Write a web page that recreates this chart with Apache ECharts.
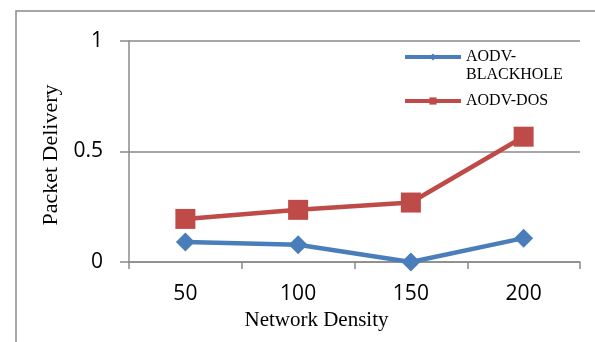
<!DOCTYPE html>
<html>
<head>
<meta charset="utf-8">
<script src="https://cdn.jsdelivr.net/npm/echarts@6/dist/echarts.min.js"></script>
<style>
html,body{margin:0;padding:0;background:#fff;}
#c{width:595px;height:342px;}
</style>
</head>
<body>
<div id="c"></div>
<script>
const categories = ['50', '100', '150', '200'];
const blackhole = [0.09, 0.078, 0.0, 0.108];
const dos = [0.195, 0.236, 0.269, 0.567];
const yTicks = [0, 0.5, 1];

const chart = echarts.init(document.getElementById('c'), null, {renderer: 'canvas'});
const sans = 'Open Sans';
const serif = 'Liberation Serif';
const gray = '#8a8a8a';
const blue = '#4A7EBB';
const red = '#BE4B48';

chart.setOption({
  animation: false,
  backgroundColor: '#fff',
  graphic: [{
    type: 'rect', silent: true, z: -1,
    shape: {x: 16, y: 11, width: 700, height: 400},
    style: {fill: 'none', stroke: gray, lineWidth: 1.5}
  }],
  grid: {left: 129, right: 15, top: 41, bottom: 80, containLabel: false},
  legend: {
    orient: 'vertical',
    left: 403,
    top: 30,
    padding: 0,
    itemGap: 8,
    itemWidth: 56,
    itemHeight: 9,
    lineStyle: {width: 4},
    textStyle: {fontFamily: serif, fontSize: 16, color: '#000', lineHeight: 18},
    formatter: function (n) { return n === 'AODV-BLACKHOLE' ? '\nAODV-\nBLACKHOLE' : n; },
    data: ['AODV-BLACKHOLE', 'AODV-DOS']
  },
  xAxis: {
    type: 'category',
    data: categories,
    boundaryGap: true,
    axisLine: {lineStyle: {color: gray, width: 1.5}},
    axisTick: {show: true, length: 7, lineStyle: {color: gray, width: 1.5}},
    axisLabel: {fontFamily: sans, fontSize: 21, color: '#000', margin: 22},
    name: 'Network Density',
    nameLocation: 'middle',
    nameGap: 47,
    nameTextStyle: {fontFamily: serif, fontSize: 21, color: '#000', padding: [0, 76, 0, 0]}
  },
  yAxis: {
    type: 'value',
    min: 0, max: 1, interval: 0.5,
    axisLine: {show: true, lineStyle: {color: gray, width: 1.5}},
    axisTick: {show: true, length: 9, lineStyle: {color: gray, width: 1.5}},
    splitLine: {show: true, lineStyle: {color: gray, width: 1.5}},
    axisLabel: {
      fontFamily: sans, fontSize: 21, color: '#000', margin: 26,
      formatter: function (v) { return yTicks.indexOf(v) >= 0 ? String(v) : ''; }
    },
    name: 'Packet Delivery',
    nameLocation: 'middle',
    nameGap: 66,
    nameTextStyle: {fontFamily: serif, fontSize: 22, color: '#000', padding: [0, 7, 0, 0]}
  },
  series: [{
    name: 'AODV-BLACKHOLE',
    type: 'line',
    data: blackhole,
    symbol: 'diamond',
    symbolSize: 19,
    lineStyle: {color: blue, width: 4.5},
    itemStyle: {color: blue}
  }, {
    name: 'AODV-DOS',
    type: 'line',
    data: dos,
    symbol: 'rect',
    symbolSize: 20,
    lineStyle: {color: red, width: 4.5},
    itemStyle: {color: red}
  }]
});
</script>
</body>
</html>
